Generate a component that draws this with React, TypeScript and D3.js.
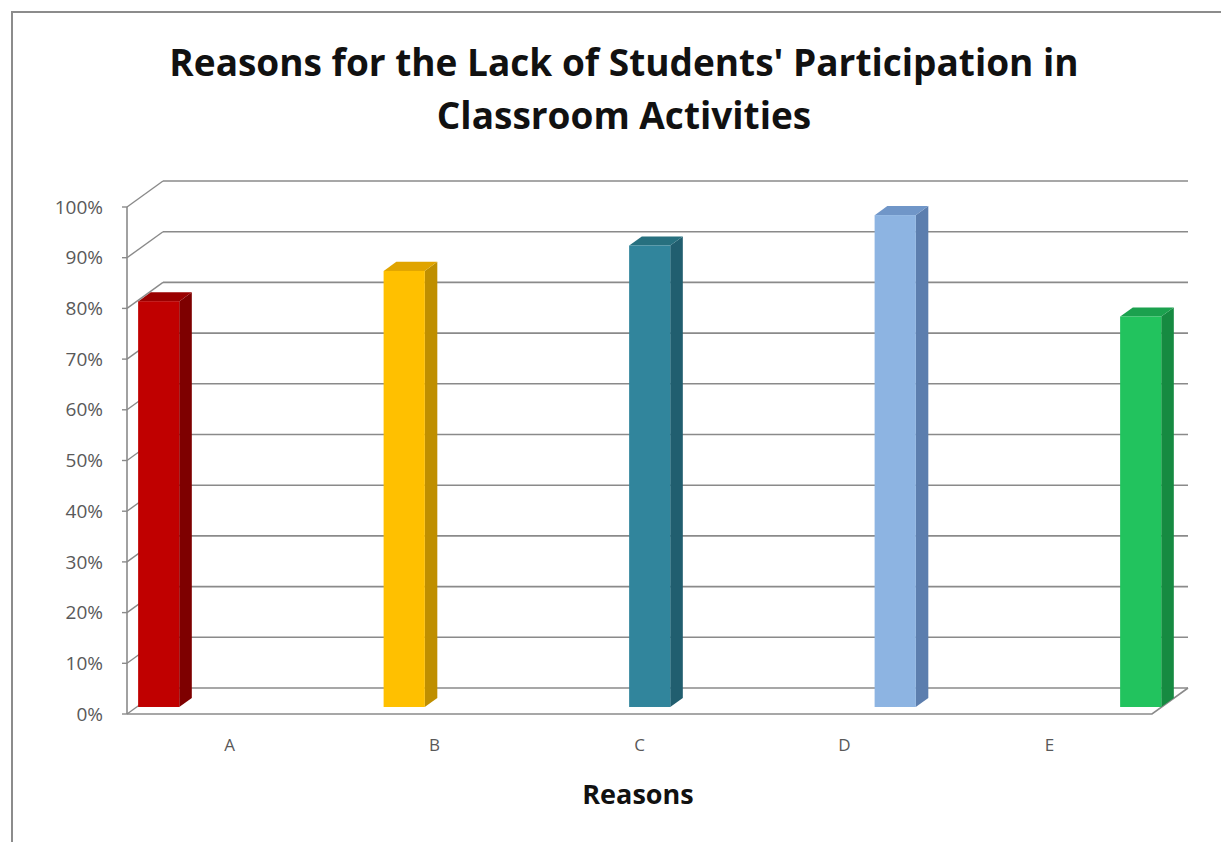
import React from "react";
import { scaleBand, scaleLinear, scalePoint, format } from "d3";

const categories = ["A", "B", "C", "D", "E"];
const values = [0.8, 0.86, 0.91, 0.97, 0.77];
const yTicks = [0, 0.1, 0.2, 0.3, 0.4, 0.5, 0.6, 0.7, 0.8, 0.9, 1];
const frontColors = ["#C00000", "#FFC000", "#31859C", "#8DB4E2", "#22C35E"];
const sideColors = ["#7E0000", "#BF8F00", "#215E6F", "#5C7EAE", "#168A41"];
const topColors = ["#9A0000", "#E0A400", "#27707F", "#7096C8", "#1BA14E"];

const W = 1221;
const H = 842;
const DX = 36;
const DY = -26;
const Z0 = 0.27;
const Z1 = 0.62;
const barW = 41;
const fontFam = "'Open Sans', Lato, sans-serif";

const App = () => {
  const x = scaleBand().domain(categories).range([127, 1152]);
  const xBar = scalePoint().domain(categories).range([149, 1131]);
  const y = scaleLinear().domain([0, 1]).range([714, 207]);
  const pct = format(".0%");
  const grid = "#8a8a8a";

  const bars = categories.map((c, i) => {
    const cx = xBar(c) as number;
    const xl = cx - barW / 2 + Z0 * DX;
    const xr = cx + barW / 2 + Z0 * DX;
    const yb = y(0) + Z0 * DY;
    const yt = y(values[i]) + Z0 * DY;
    const ddx = (Z1 - Z0) * DX;
    const ddy = (Z1 - Z0) * DY;
    return (
      <g key={c}>
        <defs>
          <linearGradient id={`g${i}`} x1="0" x2="1" y1="0" y2="0">
            <stop offset="0" stopColor={frontColors[i]} stopOpacity={0.92} />
            <stop offset="0.5" stopColor={frontColors[i]} />
            <stop offset="1" stopColor={frontColors[i]} stopOpacity={0.9} />
          </linearGradient>
        </defs>
        <path
          d={`M${xr},${yt}L${xr + ddx},${yt + ddy}L${xr + ddx},${yb + ddy}L${xr},${yb}Z`}
          fill={sideColors[i]}
        />
        <path
          d={`M${xl},${yt}L${xl + ddx},${yt + ddy}L${xr + ddx},${yt + ddy}L${xr},${yt}Z`}
          fill={topColors[i]}
        />
        <rect x={xl} y={yt} width={xr - xl} height={yb - yt} fill={frontColors[i]} />
        <rect x={xl} y={yt} width={xr - xl} height={yb - yt} fill={`url(#g${i})`} opacity={0.6} />
      </g>
    );
  });

  return (
    <svg
      width={W}
      height={H}
      style={{ position: "absolute", left: 0, top: 0, background: "#fff" }}
    >
      <rect x={12} y={12} width={W + 20} height={H + 20} fill="#fff" stroke="#8c8c8c" strokeWidth={2} />

      <text x={624} y={76} textAnchor="middle" fontFamily={fontFam} fontWeight="bold" fontSize={37} fill="#111">
        Reasons for the Lack of Students' Participation in
      </text>
      <text x={624} y={129} textAnchor="middle" fontFamily={fontFam} fontWeight="bold" fontSize={37} fill="#111">
        Classroom Activities
      </text>

      {/* back wall gridlines and left wall diagonals */}
      {yTicks.map((t) => (
        <g key={t}>
          <line x1={x.range()[0] + DX} x2={x.range()[1] + DX} y1={y(t) + DY} y2={y(t) + DY} stroke={grid} strokeWidth={1.6} />
          <line x1={x.range()[0]} x2={x.range()[0] + DX} y1={y(t)} y2={y(t) + DY} stroke={grid} strokeWidth={1.4} />
          <line x1={x.range()[0] - 5} x2={x.range()[0]} y1={y(t)} y2={y(t)} stroke={grid} strokeWidth={1.4} />
          <text
            x={103}
            y={y(t)}
            dy="0.35em"
            textAnchor="end"
            fontFamily={fontFam}
            fontSize={19}
            fill="#595959"
          >
            {pct(t)}
          </text>
        </g>
      ))}

      {/* floor front edge */}
      <path
        d={`M${x.range()[0]},${y(0)}L${x.range()[1]},${y(0)}L${x.range()[1] + DX},${y(0) + DY}`}
        fill="none"
        stroke={grid}
        strokeWidth={1.6}
      />
      {/* front value axis */}
      <line x1={x.range()[0]} x2={x.range()[0]} y1={y(0)} y2={y(1)} stroke={grid} strokeWidth={1.6} />

      {bars}

      {categories.map((c) => (
        <text
          key={c}
          x={(x(c) as number) + x.bandwidth() / 2}
          y={745}
          dy="0.35em"
          textAnchor="middle"
          fontFamily={fontFam}
          fontSize={17}
          fill="#595959"
        >
          {c}
        </text>
      ))}

      <text x={638} y={804} textAnchor="middle" fontFamily={fontFam} fontWeight="bold" fontSize={27} fill="#111">
        Reasons
      </text>
    </svg>
  );
};

export default App;
